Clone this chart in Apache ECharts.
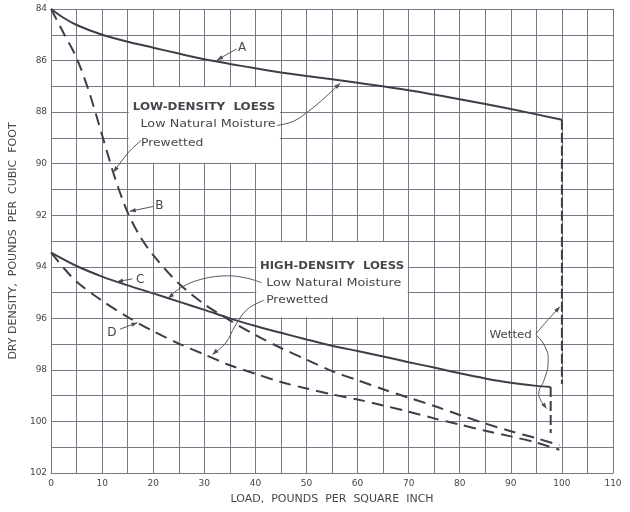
<!DOCTYPE html>
<html><head><meta charset="utf-8">
<script src="https://cdn.jsdelivr.net/npm/echarts@6/dist/echarts.min.js"></script>
<style>html,body{margin:0;padding:0;background:#fff}#c{width:630px;height:512px}</style>
</head><body><div id="c"></div>
<script>
// ---- data ----
const xTickLabels = ['0','10','20','30','40','50','60','70','80','90','100','110'];
const yTickLabels = ['84','86','88','90','92','94','96','98','100','102'];

// A: low-density loess, low natural moisture
const curveA = [[0,84],[2.5,84.35],[5,84.62],[10,85.0],[15,85.27],[20,85.5],[25,85.73],[30,85.95],[35,86.13],[40,86.3],[45,86.46],[50,86.6],[60,86.86],[70,87.15],[80,87.5],[90,87.88],[100,88.3]];
const wettedA = [[100,88.3],[100,98.55]];
// B: low-density loess, prewetted
const curveB = [[0,84],[2.5,84.95],[5,85.9],[7.5,87.25],[10,88.9],[12.5,90.55],[15,91.9],[17.5,92.85],[20,93.55],[25,94.65],[30,95.45],[35,96.08],[40,96.65],[45,97.15],[50,97.6],[55,98.05],[60,98.4],[65,98.75],[70,99.08],[75,99.4],[80,99.75],[85,100.08],[90,100.38],[95,100.65],[99.5,100.92]];
// C: high-density loess, low natural moisture
const curveC = [[0,93.45],[5,93.97],[10,94.38],[15,94.72],[20,95.03],[25,95.35],[30,95.67],[35,96.0],[40,96.3],[45,96.56],[50,96.82],[55,97.06],[60,97.27],[65,97.48],[70,97.7],[75,97.91],[80,98.13],[85,98.33],[90,98.5],[95,98.62],[97.8,98.66]];
const wettedC = [[97.8,98.66],[97.8,100.45]];
// D: high-density loess, prewetted
const curveD = [[0,93.45],[2.5,94.05],[5,94.58],[10,95.32],[15,95.95],[20,96.5],[25,96.98],[30,97.4],[35,97.82],[40,98.15],[45,98.47],[50,98.72],[55,98.95],[60,99.15],[65,99.38],[70,99.62],[75,99.88],[80,100.12],[85,100.36],[90,100.58],[95,100.82],[99.5,101.1]];

const boxes = [[[15,87],[45,90]],[[40,93],[70,96]]];

const ink = '#3c3f47';
const gridCol = '#767a84';
const txt = '#45474d';
const FONT = 'DejaVu Sans';

const chart = echarts.init(document.getElementById('c'), null, {renderer:'canvas'});

function lineSeries(name, data, dash, smooth){
  return {name, type:'line', data, showSymbol:false, smooth:smooth||false, z:4, silent:true,
    lineStyle:{color:ink, width:2, type:dash||'solid'}};
}

const option = {
  animation:false,
  backgroundColor:'#fff',
  grid:{left:46, right:17, top:9, bottom:39},
  xAxis:{type:'value', min:0, max:110, interval:5,
    axisLine:{show:true, lineStyle:{color:gridCol, width:1}},
    axisTick:{show:false},
    splitLine:{show:true, lineStyle:{color:gridCol, width:1}},
    axisLabel:{color:txt, fontSize:9, fontFamily:FONT, margin:6,
      formatter:v=> (v%10===0 ? xTickLabels[v/10] : '')},
    name:'LOAD,  POUNDS  PER  SQUARE  INCH', nameLocation:'middle', nameGap:21,
    nameTextStyle:{color:txt, fontSize:11, fontFamily:FONT}
  },
  yAxis:{type:'value', min:84, max:102, interval:1, inverse:true,
    axisLine:{show:true, lineStyle:{color:gridCol, width:1}},
    axisTick:{show:false},
    splitLine:{show:true, lineStyle:{color:gridCol, width:1}},
    axisLabel:{color:txt, fontSize:9, fontFamily:FONT, margin:4,
      formatter:v=> ((v-84)%2===0 ? yTickLabels[(v-84)/2] : '')},
    name:'DRY DENSITY,  POUNDS  PER  CUBIC  FOOT', nameLocation:'middle', nameGap:24, nameRotate:90,
    nameTextStyle:{color:txt, fontSize:11, fontFamily:FONT}
  },
  series:[
    {type:'line', data:[], z:2, silent:true,
      markArea:{silent:true, itemStyle:{color:'#fff'},
        data: boxes.map(b=>[{coord:[b[0][0]+0.2, b[0][1]+0.04]},{coord:[b[1][0]-0.2, b[1][1]-0.04]}])}},
    lineSeries('A', curveA, 'solid', 0.3),
    lineSeries('wA', wettedA, [10,3]),
    lineSeries('B', curveB, [12,7], 0.3),
    lineSeries('C', curveC, 'solid', 0.3),
    lineSeries('wC', wettedC, [10,4]),
    lineSeries('D', curveD, [12,7], 0.3)
  ]
};
chart.setOption(option);

// ---- annotations (data coords) ----
function P(x,y){ return chart.convertToPixel({gridIndex:0},[x,y]); }
const g = [];
function text(s, x, y, opts, sx){
  const p = P(x,y);
  g.push({type:'text', z:10, x:p[0], y:p[1], scaleX:sx||1,
    style:Object.assign({text:s, x:0, y:0, fill:txt,
    fontSize:11, fontFamily:FONT, align:'left', verticalAlign:'middle'}, opts||{})});
}
function arrowHead(tip, prev){
  const dx = tip[0]-prev[0], dy = tip[1]-prev[1];
  const L = Math.hypot(dx,dy)||1; const ux=dx/L, uy=dy/L;
  const len=6, w=2.2;
  g.push({type:'polygon', z:10, shape:{points:[tip,[tip[0]-ux*len+uy*w, tip[1]-uy*len-ux*w],[tip[0]-ux*len-uy*w, tip[1]-uy*len+ux*w]]},
    style:{fill:'#4a4d55'}});
}
function leader(pts, smooth){
  const px = pts.map(q=>P(q[0],q[1]));
  g.push({type:'polyline', z:10, shape:{points:px, smooth:smooth||0}, style:{stroke:'#555860', lineWidth:1, fill:null}});
  arrowHead(px[px.length-1], px[px.length-2]);
}

// A
text('A', 36.6, 85.52, {fontSize:12});
leader([[36.3,85.55],[32.5,85.98]]);
// B
text('B', 20.4, 91.62, {fontSize:12});
leader([[20.0,91.66],[15.4,91.85]]);
// Low-density block
text('LOW-DENSITY  LOESS', 16.0, 87.8, {fontWeight:'bold', fontSize:11}, 1.08);
text('Low Natural Moisture', 17.5, 88.46, null, 1.16);
text('Prewetted', 17.6, 89.2, null, 1.12);
leader([[44.2,88.52],[47.5,88.35],[50.5,87.95],[53.8,87.4],[56.6,86.88]], 0.4);
leader([[17.6,89.1],[15.2,89.55],[12.2,90.33]], 0.3);
// C, D
text('C', 16.6, 94.5, {fontSize:12});
leader([[15.9,94.47],[12.9,94.58]]);
text('D', 11.0, 96.57, {fontSize:12});
leader([[13.5,96.42],[16.9,96.17]]);
// High-density block
text('HIGH-DENSITY  LOESS', 40.9, 93.97, {fontWeight:'bold', fontSize:11}, 1.06);
text('Low Natural Moisture', 42.1, 94.63, null, 1.16);
text('Prewetted', 42.1, 95.3, null, 1.12);
leader([[41.2,94.62],[38.5,94.45],[34.5,94.35],[29.5,94.48],[25.5,94.8],[22.9,95.22]], 0.4);
leader([[41.7,95.3],[38.4,95.65],[36.0,96.3],[34.2,96.95],[31.6,97.4]], 0.4);
// Wetted
text('Wetted', 85.8, 96.65, null, 1.08);
leader([[94.9,96.6],[97.3,96.05],[99.6,95.55]], 0.3);
leader([[94.9,96.64],[96.7,97.1],[97.3,97.7],[96.5,98.4],[95.5,98.85],[95.9,99.2],[97.0,99.5]], 0.5);

chart.setOption({graphic:g});
</script>
</body></html>
